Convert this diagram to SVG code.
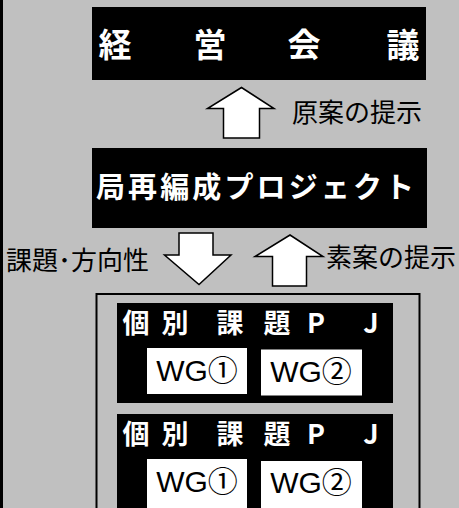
<svg xmlns="http://www.w3.org/2000/svg" width="459" height="508" viewBox="0 0 459 508">
<style>
.blk{fill:#000}
.wg{fill:#fff}
.arrow{fill:#fff;stroke:#000;stroke-width:1.5;stroke-linejoin:miter}
.title{font-family:"Noto Sans CJK JP","Liberation Sans",sans-serif;font-weight:bold;fill:#fff;text-anchor:middle}
.lbl{font-family:"Noto Sans CJK JP","Liberation Sans",sans-serif;font-size:26px;fill:#000}
.wgt{font-family:"Liberation Sans","Noto Sans CJK JP",sans-serif;font-size:30px;fill:#000;text-anchor:middle}
</style>
<rect x="0" y="0" width="459" height="508" fill="#c0c0c0"/>
<rect x="0" y="0" width="3" height="508" fill="#000"/>

<g id="keiei-kaigi">
<rect class="blk" x="92" y="7" width="334" height="73"/>
<g class="title" font-size="33">
<text x="115" y="57">経</text>
<text x="210" y="57">営</text>
<text x="304" y="57">会</text>
<text x="403" y="57">議</text>
</g>
</g>

<g id="project">
<rect class="blk" x="92" y="148" width="335" height="80"/>
<text class="title" font-size="29" x="255" y="198" textLength="318" lengthAdjust="spacing">局再編成プロジェクト</text>
</g>

<g id="connectors">
<polygon class="arrow" points="241.5,87.5 274,108.5 259.5,108.5 259.5,138 223.5,138 223.5,108.5 207.5,108.5"/>
<polygon class="arrow" points="179,233 213,233 213,255 231,255 199,284.5 164.5,255 179,255"/>
<polygon class="arrow" points="290,235 323,256.5 306.5,256.5 306.5,286 272.5,286 272.5,256.5 255,256.5"/>
<text class="lbl" x="292" y="122">原案の提示</text>
<text class="lbl" x="6" y="270">課題･方向性</text>
<text class="lbl" x="326" y="267">素案の提示</text>
</g>

<g id="pj-group">
<rect x="96.5" y="294" width="323" height="220" fill="none" stroke="#000" stroke-width="2"/>
</g>

<g id="pj1">
<rect class="blk" x="117" y="303" width="276" height="100"/>
<g class="title" font-size="27">
<text x="136" y="333">個</text>
<text x="175" y="333">別</text>
<text x="230" y="333">課</text>
<text x="277" y="333">題</text>
<text x="316" y="333">P</text>
<text x="371" y="333">J</text>
</g>
<g id="pj1-wg1"><rect class="wg" x="147" y="348" width="100" height="46"/><text class="wgt" x="197" y="381">WG①</text></g>
<g id="pj1-wg2"><rect class="wg" x="261" y="349.5" width="101" height="46"/><text class="wgt" x="311" y="382">WG②</text></g>
</g>

<g id="pj2">
<rect class="blk" x="117" y="414" width="276" height="100"/>
<g class="title" font-size="27">
<text x="136" y="444">個</text>
<text x="175" y="444">別</text>
<text x="230" y="444">課</text>
<text x="277" y="444">題</text>
<text x="316" y="444">P</text>
<text x="371" y="444">J</text>
</g>
<g id="pj2-wg1"><rect class="wg" x="147" y="459" width="100" height="49"/><text class="wgt" x="197" y="492">WG①</text></g>
<g id="pj2-wg2"><rect class="wg" x="261" y="461" width="101" height="47"/><text class="wgt" x="311" y="493">WG②</text></g>
</g>
</svg>
